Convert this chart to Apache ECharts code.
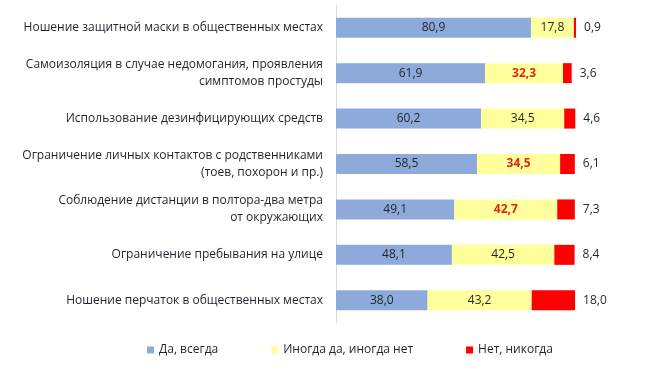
<!DOCTYPE html>
<html><head><meta charset="utf-8">
<script src="https://cdn.jsdelivr.net/npm/echarts@6/dist/echarts.min.js"></script>
<style>html,body{margin:0;padding:0;background:#fff}#c{width:662px;height:379px}</style>
</head><body><div id="c"></div>
<script>
const categories = [
  "Ношение защитной маски в общественных местах",
  "Самоизоляция в случае недомогания, проявления\nсимптомов простуды",
  "Использование дезинфицирующих средств",
  "Ограничение личных контактов с родственниками\n(тоев, похорон и пр.)",
  "Соблюдение дистанции в полтора-два метра\nот окружающих",
  "Ограничение пребывания на улице",
  "Ношение перчаток в общественных местах"
];
const seriesNames = ["Да, всегда", "Иногда да, иногда нет", "Нет, никогда"];
const always = [80.9, 61.9, 60.2, 58.5, 49.1, 48.1, 38.0];
const sometimes = [17.8, 32.3, 34.5, 34.5, 42.7, 42.5, 43.2];
const never = [0.9, 3.6, 4.6, 6.1, 7.3, 8.4, 18.0];
const highlightedSometimes = [1, 3, 4];

const fmt = v => v.toFixed(1).replace('.', ',');
const font = "'Open Sans', sans-serif";
const textColor = '#1f232b';

const chart = echarts.init(document.getElementById('c'), null, {renderer: 'canvas'});
chart.setOption({
  animation: false,
  textStyle: {fontFamily: font},
  grid: {left: 336, right: 85, top: 5, bottom: 56, containLabel: false},
  xAxis: {type: 'value', min: 0, max: 100, show: false},
  yAxis: {
    type: 'category', data: categories, inverse: true,
    axisLine: {show: true, lineStyle: {color: '#d9d9d9', width: 1}},
    axisTick: {show: false},
    axisLabel: {color: textColor, fontSize: 12, fontFamily: font, margin: 13, lineHeight: 17, align: 'right'}
  },
  legend: {
    left: 142, top: 339, itemWidth: 7, itemHeight: 7, itemGap: 53,
    icon: 'rect',
    textStyle: {color: textColor, fontSize: 12, fontFamily: font},
    data: seriesNames
  },
  series: [
    {
      name: seriesNames[0], type: 'bar', stack: 't', barWidth: 20,
      itemStyle: {color: '#8eaadb'},
      label: {show: true, position: 'inside', color: textColor, fontSize: 12, fontFamily: font, formatter: p => fmt(p.value)},
      data: always
    },
    {
      name: seriesNames[1], type: 'bar', stack: 't', barWidth: 20,
      itemStyle: {color: '#ffff9c'},
      label: {show: true, position: 'inside', color: textColor, fontSize: 12, fontFamily: font, formatter: p => fmt(p.value)},
      data: sometimes.map((v, i) => highlightedSometimes.includes(i)
        ? {value: v, label: {color: '#e8211b', fontWeight: 'bold'}}
        : v)
    },
    {
      name: seriesNames[2], type: 'bar', stack: 't', barWidth: 20,
      itemStyle: {color: '#ff0000'},
      label: {show: true, position: 'right', distance: 8, color: textColor, fontSize: 12, fontFamily: font, formatter: p => fmt(p.value)},
      data: never
    }
  ]
});
</script></body></html>
